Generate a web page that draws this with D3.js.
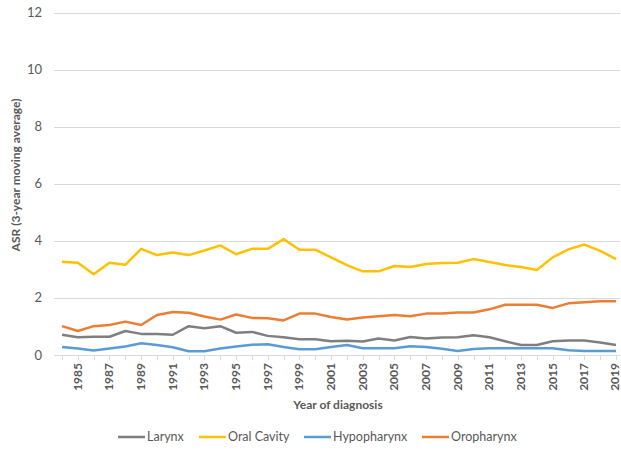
<!DOCTYPE html>
<html>
<head>
<meta charset="utf-8">
<script src="https://cdn.jsdelivr.net/npm/d3@7"></script>
<style>
  body { margin: 0; background: #fff; }
  svg text { font-family: Lato, "Open Sans", sans-serif; fill: #595959; }
</style>
</head>
<body>
<div id="chart"></div>
<script>
const years = d3.range(1984, 2020);
const seriesNames = ["Larynx", "Oral Cavity", "Hypopharynx", "Oropharynx"];
const colors = ["#7f7f7f", "#ffc000", "#5b9bd5", "#ed7d31"];

const larynx = [0.71, 0.62, 0.64, 0.64, 0.84, 0.74, 0.74, 0.71, 1.01, 0.94, 1.01, 0.78,
    0.81, 0.67, 0.62, 0.55, 0.55, 0.48, 0.50, 0.47, 0.58, 0.51, 0.63, 0.58,
    0.61, 0.62, 0.69, 0.62, 0.48, 0.35, 0.35, 0.48, 0.51, 0.51, 0.44, 0.35];
const oralCavity = [3.27, 3.23, 2.83, 3.23, 3.16, 3.72, 3.50, 3.59, 3.50, 3.66, 3.84, 3.53,
    3.72, 3.72, 4.06, 3.69, 3.69, 3.42, 3.15, 2.93, 2.93, 3.12, 3.08, 3.19,
    3.22, 3.23, 3.36, 3.26, 3.15, 3.08, 2.98, 3.42, 3.70, 3.87, 3.65, 3.36];
const hypopharynx = [0.28, 0.23, 0.16, 0.23, 0.30, 0.41, 0.35, 0.27, 0.13, 0.13, 0.23, 0.30,
    0.36, 0.38, 0.28, 0.20, 0.20, 0.28, 0.35, 0.24, 0.24, 0.24, 0.31, 0.28,
    0.22, 0.14, 0.21, 0.24, 0.24, 0.24, 0.24, 0.24, 0.17, 0.14, 0.14, 0.14];
const oropharynx = [1.01, 0.84, 1.01, 1.05, 1.17, 1.05, 1.40, 1.51, 1.48, 1.35, 1.24, 1.42,
    1.30, 1.29, 1.21, 1.45, 1.45, 1.33, 1.24, 1.31, 1.36, 1.40, 1.36, 1.45,
    1.45, 1.49, 1.49, 1.60, 1.76, 1.76, 1.76, 1.65, 1.81, 1.85, 1.88, 1.88];
const yTicks = [0, 2, 4, 6, 8, 10, 12];
const xTickLabels = years.filter(y => y % 2 === 1);

const allSeries = [larynx, oralCavity, hypopharynx, oropharynx];

const width = 621, height = 452;
const svg = d3.select("#chart").append("svg")
    .attr("width", width)
    .attr("height", height);

const x = d3.scaleLinear().domain([1984, 2019]).range([62, 616]);
const y = d3.scaleLinear().domain([0, 12]).range([355, 12.5]);

// gridlines
svg.append("g")
    .selectAll("line")
    .data(yTicks)
    .enter()
    .append("line")
    .attr("x1", 54)
    .attr("x2", 620)
    .attr("y1", d => Math.round(y(d)) + 0.5)
    .attr("y2", d => Math.round(y(d)) + 0.5)
    .attr("stroke", "#d9d9d9")
    .attr("stroke-width", 1);

// y labels
svg.append("g")
    .selectAll("text")
    .data(yTicks)
    .enter()
    .append("text")
    .attr("x", 42)
    .attr("y", d => y(d))
    .attr("dy", "0.35em")
    .attr("text-anchor", "end")
    .attr("font-size", 13)
    .text(d => d);

// x tick marks
svg.append("g")
    .selectAll("line")
    .data(years)
    .enter()
    .append("line")
    .attr("x1", d => Math.round(x(d)) + 0.5)
    .attr("x2", d => Math.round(x(d)) + 0.5)
    .attr("y1", y(0))
    .attr("y2", y(0) + 5)
    .attr("stroke", "#d9d9d9");

// x labels (keep the last one inside the window)
svg.append("g")
    .selectAll("text")
    .data(xTickLabels)
    .enter()
    .append("text")
    .attr("transform", d => "translate(" + Math.min(x(d) + 4, 619) + "," + 363 + ") rotate(-90)")
    .attr("text-anchor", "end")
    .attr("font-size", 12)
    .attr("font-weight", "bold")
    .text(d => d);

// lines
const line = d3.line()
    .x((d, i) => x(years[i]))
    .y(d => y(d));

svg.append("g")
    .selectAll("path")
    .data(allSeries)
    .enter()
    .append("path")
    .attr("d", d => line(d))
    .attr("fill", "none")
    .attr("stroke", (d, i) => colors[i])
    .attr("stroke-width", 2.5)
    .attr("stroke-linejoin", "round");

// axis titles
svg.append("text")
    .attr("transform", "translate(20,175) rotate(-90)")
    .attr("text-anchor", "middle")
    .attr("font-size", 12)
    .attr("font-weight", "bold")
    .text("ASR (3-year moving average)");

svg.append("text")
    .attr("x", 338)
    .attr("y", 409)
    .attr("text-anchor", "middle")
    .attr("font-size", 12)
    .attr("font-weight", "bold")
    .text("Year of diagnosis");

// legend
const legendX = [118, 199, 304, 422];
const legend = svg.append("g")
    .selectAll("g")
    .data(seriesNames)
    .enter()
    .append("g")
    .attr("transform", (d, i) => "translate(" + legendX[i] + ",437)");

legend.append("line")
    .attr("x1", 0)
    .attr("x2", 27)
    .attr("stroke", (d, i) => colors[i])
    .attr("stroke-width", 2.5);

legend.append("text")
    .attr("x", 29)
    .attr("dy", "0.35em")
    .attr("font-size", 12.5)
    .text(d => d);
</script>
</body>
</html>
